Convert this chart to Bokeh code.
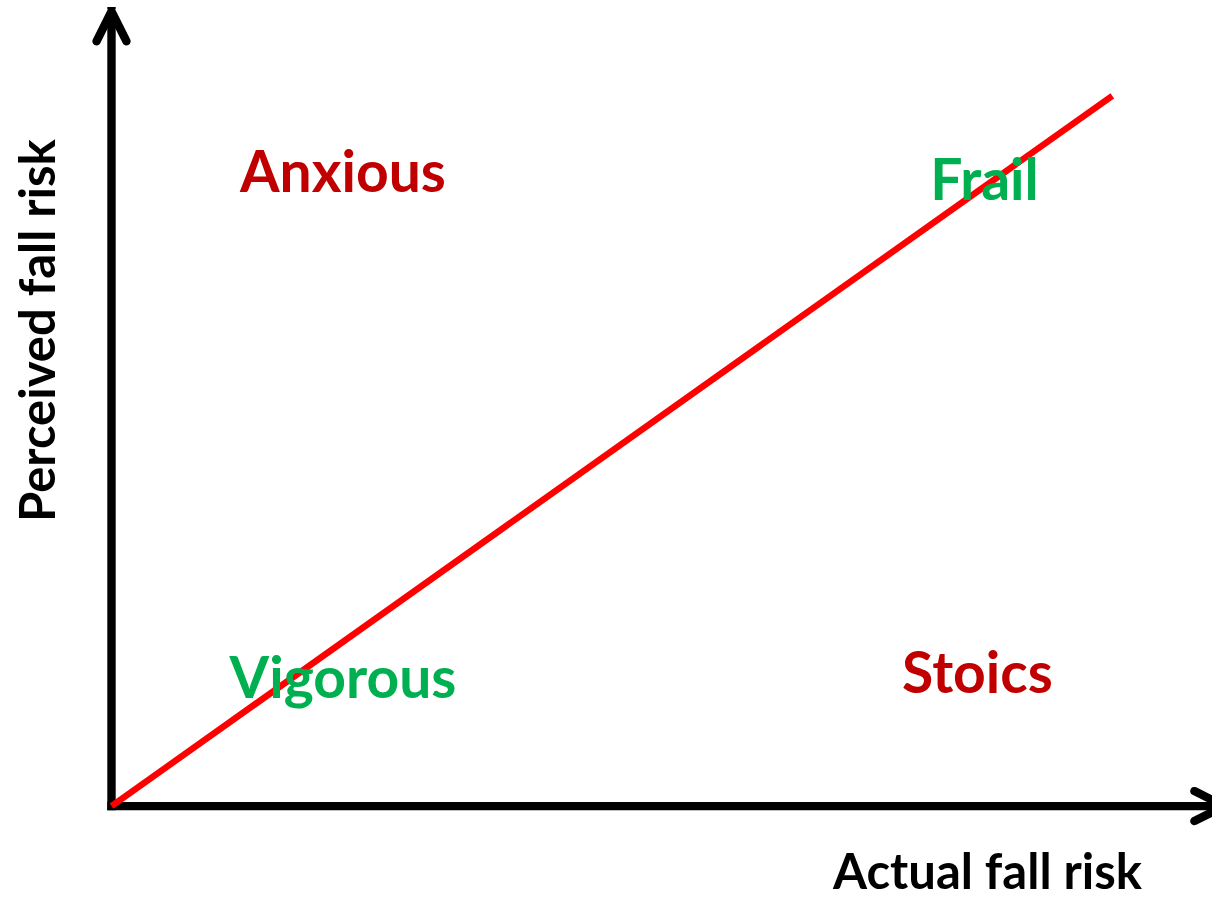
from bokeh.plotting import figure
from bokeh.models import Range1d, Arrow, OpenHead, ColumnDataSource
from bokeh.core.properties import value
from bokeh.embed import file_html
from bokeh.resources import INLINE
import math

# ---- data (conceptual units: origin = 0, diagonal end = 1) ----
diagonal_x = [0.0, 1.0]
diagonal_y = [0.0, 1.0]

axis_x_end = 1.112   # horizontal axis arrow tip (partly beyond view)
axis_y_end = 1.119   # vertical axis arrow tip

quad_labels = ["Anxious", "Frail", "Vigorous", "Stoics"]
quad_x = [0.2313, 0.8723, 0.2313, 0.8653]
quad_y = [0.8957, 0.8847, 0.1833, 0.1902]
quad_colors = ["#C00000", "#00B050", "#00B050", "#C00000"]

x_title = "Actual fall risk"
y_title = "Perceived fall risk"
x_title_pos = (0.8753, -0.0895)
y_title_pos = (-0.0757, 0.6694)

# ---- layout ----
W, H = 1212, 898
X0_PX, Y0_PX = 111.0, 805.6     # origin in figure pixels
SX, SY = 1000.8, 710.3          # pixels per unit

p = figure(width=W, height=H, output_backend="svg", toolbar_location=None,
           x_range=Range1d(-X0_PX / SX, (W - X0_PX) / SX),
           y_range=Range1d(-(H - Y0_PX) / SY, Y0_PX / SY),
           min_border=0, outline_line_color=None)
p.xaxis.visible = False
p.yaxis.visible = False
p.grid.visible = False
p.background_fill_color = "white"
p.border_fill_color = "white"

AXW = 8.4
for xs, ys, xe, ye in [(0, 0, 0, axis_y_end), (0, 0, axis_x_end, 0)]:
    p.add_layout(Arrow(
        end=OpenHead(size=30, line_width=AXW, line_color="black",
                     line_cap="round", line_join="round"),
        x_start=xs, y_start=ys, x_end=xe, y_end=ye,
        line_width=AXW, line_color="black", line_cap="square",
        level="underlay"))

p.line(diagonal_x, diagonal_y, line_color="#FF0000", line_width=6.4)

src = ColumnDataSource(dict(x=quad_x, y=quad_y, t=quad_labels, c=quad_colors))
p.text(x="x", y="y", text="t", text_color="c", source=src,
       text_font=value("Lato"), text_font_style="bold",
       text_font_size="57px", text_align="center",
       text_baseline="middle")

p.text(x=[x_title_pos[0]], y=[x_title_pos[1]], text=[x_title],
       text_color="black", text_font=value("Lato"), text_font_style="bold",
       text_font_size="49px", text_align="center", text_baseline="middle")
p.text(x=[y_title_pos[0]], y=[y_title_pos[1]], text=[y_title],
       text_color="black", text_font=value("Lato"), text_font_style="bold",
       text_font_size="49px", text_align="center", text_baseline="middle",
       angle=math.pi / 2)

open("out.html", "w").write(file_html(p, INLINE))
